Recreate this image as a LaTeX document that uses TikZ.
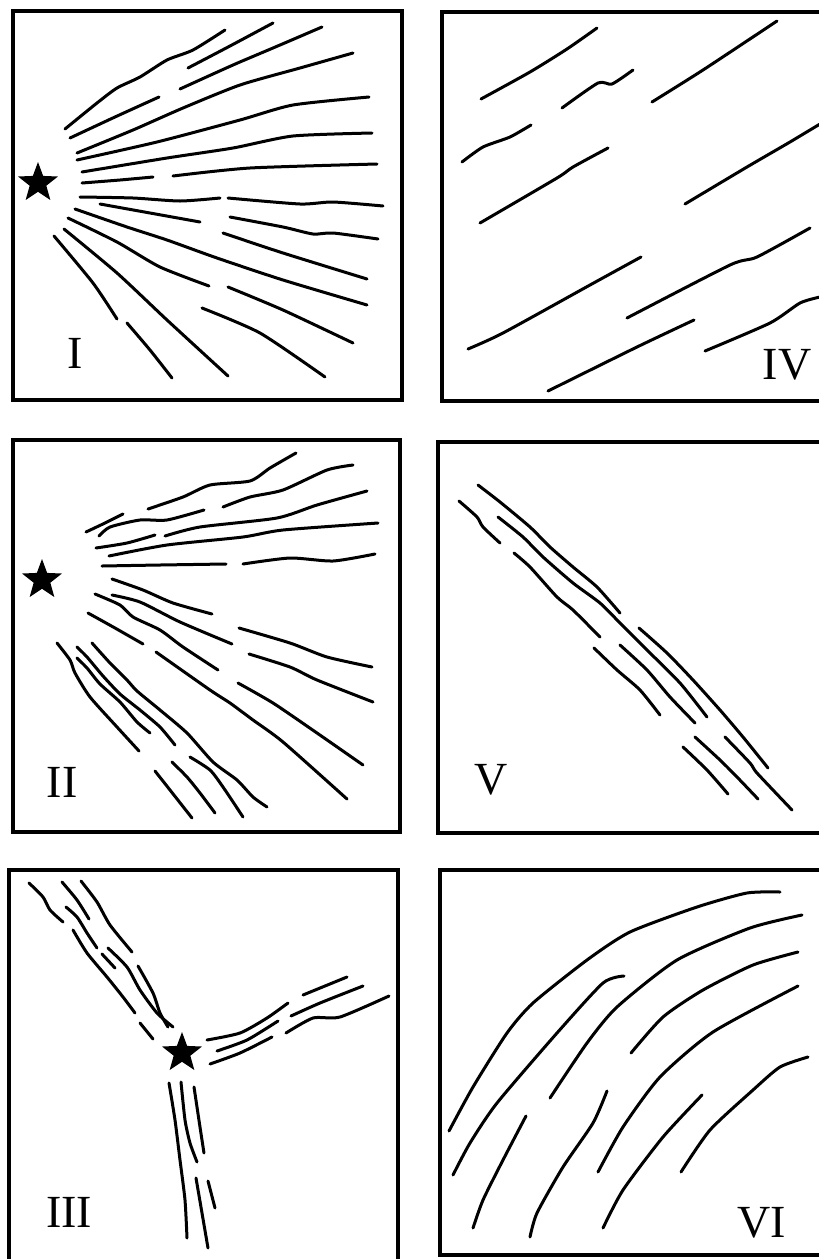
\documentclass[tikz,border=0pt]{standalone}
\usepackage{fontspec}
\setmainfont{Liberation Serif}
\usetikzlibrary{shapes.geometric}
\tikzset{
  frame/.style={line width=4.5pt},
  crack/.style={line width=3pt, line cap=round, line join=round},
  pole/.style={star, star points=5, star point ratio=2.4, fill=black, draw=none, minimum size=42pt, inner sep=0pt},
  lab/.style={font=\fontsize{46}{46}\selectfont, inner sep=0pt, anchor=center}
}
\newcommand{\crk}[1]{\draw[crack] plot[smooth, tension=0.4] coordinates {#1};}
\begin{document}
\begin{tikzpicture}[x=1pt,y=-1pt]
\useasboundingbox (0,0) rectangle (819,1259);
\begin{scope}
\clip (0,0) rectangle (819,1259);
% frames
\draw[frame] (13,11) rectangle (402,400);
\draw[frame] (442,12) rectangle (830,401);
\draw[frame] (13,440) rectangle (400,832);
\draw[frame] (438,442) rectangle (830,833);
\draw[frame] (9,870) rectangle (398,1270);
\draw[frame] (440,870) rectangle (830,1255);

% ---------- Panel I ----------
\crk{(65,129)(97,103)(117,88)(140,77)(167,60)(193,50)(225,30)}
\crk{(188,68)(230,46)(273,23)}
\crk{(70,138)(115,117)(159,97)}
\crk{(180,89)(233,65)(273,48)(322,27)}
\crk{(77,153)(133,130)(183,108)(240,85)(300,68)(353,53)}
\crk{(77,160)(157,142)(240,120)(293,105)(369,97)}
\crk{(82,172)(167,158)(233,148)(293,136)(372,133)}
\crk{(82,183)(120,180)(153,177)}
\crk{(173,176)(250,168)(377,164)}
\crk{(80,197)(133,198)(180,201)(220,198)}
\crk{(228,198)(300,204)(333,202)(383,206)}
\crk{(100,204)(150,213)(200,222)}
\crk{(230,217)(283,227)(313,234)(333,233)(378,239)}
\crk{(75,209)(127,227)(167,240)(217,258)(283,280)(367,305)}
\crk{(223,233)(283,253)(367,279)}
\crk{(68,218)(117,242)(160,267)(209,286)}
\crk{(228,287)(283,310)(353,343)}
\crk{(202,308)(260,333)(325,377)}
\crk{(64,229)(117,273)(167,320)(228,376)}
\crk{(54,236)(93,283)(117,319)}
\crk{(127,323)(150,350)(172,378)}
\node[pole] (s1) at (38,183) {};
\node[lab] (l1) at (75,353) {I};

% ---------- Panel IV ----------
\crk{(481,99)(530,72)(567,49)(597,28)}
\crk{(562,108)(598,83)(612,84)(633,70)}
\crk{(652,102)(703,70)(777,21)}
\crk{(462,162)(483,147)(510,137)(531,125)}
\crk{(480,223)(557,178)(573,167)(608,148)}
\crk{(685,204)(747,167)(790,142)(820,124)}
\crk{(468,349)(503,333)(590,285)(641,257)}
\crk{(627,318)(730,265)(757,257)(810,228)}
\crk{(548,391)(637,347)(694,320)}
\crk{(705,351)(770,323)(800,303)(820,297)}
\node[lab] (l4) at (787,365) {IV};

% ---------- Panel II ----------
\crk{(86,532)(105,523)(123,514)}
\crk{(99,536)(110,527)(140,520)(167,520)(204,510)}
\crk{(148,509)(183,497)(210,485)(250,481)(270,468)(296,453)}
\crk{(223,507)(250,497)(283,490)(327,470)(353,465)}
\crk{(96,548)(127,543)(155,535)}
\crk{(165,536)(200,527)(277,518)(317,505)(367,491)}
\crk{(109,556)(167,545)(243,537)(283,530)(378,523)}
\crk{(102,566)(160,565)(226,564)}
\crk{(243,564)(290,558)(333,561)(375,554)}
\crk{(112,579)(143,590)(173,603)(212,614)}
\crk{(112,595)(140,602)(180,622)(232,644)}
\crk{(95,594)(120,605)(133,617)(160,630)(183,647)(218,670)}
\crk{(239,628)(290,643)(327,657)(372,667)}
\crk{(249,654)(290,667)(317,680)(373,702)}
\crk{(88,613)(115,628)(143,644)}
\crk{(156,652)(210,690)(230,703)(253,720)(283,742)(347,799)}
\crk{(238,683)(273,703)(317,733)(363,765)}
\crk{(57,643)(70,660)(75,673)(90,697)(117,727)(139,751)}
\crk{(77,647)(87,657)(103,676)(120,694)(140,710)(160,727)(175,745)}
\crk{(77,658)(87,668)(100,684)(120,702)(137,722)(150,733)}
\crk{(92,643)(110,663)(127,680)(137,691)(160,710)(187,733)(213,762)(237,780)(253,797)(267,807)}
\crk{(155,771)(170,790)(192,818)}
\crk{(172,762)(187,777)(200,793)(215,813)}
\crk{(190,757)(210,770)(223,787)(243,817)}
\node[pole] (s2) at (42,580) {};
\node[lab] (l2) at (62,782) {II};

% ---------- Panel V ----------
\crk{(459,501)(477,517)(483,527)(500,543)}
\crk{(478,485)(500,502)(530,527)(550,547)(573,567)(597,587)(620,613)}
\crk{(498,517)(523,537)(543,557)(573,583)(600,603)(620,623)(647,650)(680,683)(707,717)}
\crk{(514,553)(530,567)(557,597)(573,610)(600,637)}
\crk{(639,628)(667,653)(693,680)(720,710)(743,737)(768,768)}
\crk{(594,648)(617,670)(640,690)(660,715)}
\crk{(620,645)(647,670)(670,697)(695,723)}
\crk{(683,747)(707,770)(728,794)}
\crk{(695,737)(720,760)(737,777)(758,799)}
\crk{(725,737)(750,763)(757,773)(792,810)}
\node[lab] (l5) at (491,780) {V};

% ---------- Panel III ----------
\crk{(29,883)(43,897)(50,910)(63,922)}
\crk{(62,882)(77,900)(89,919)}
\crk{(81,881)(97,902)(110,925)(132,952)}
\crk{(66,907)(77,917)(87,933)(97,948)}
\crk{(73,930)(87,953)(107,977)(123,997)(135,1013)}
\crk{(102,954)(115,968)}
\crk{(108,948)(127,967)(140,990)(157,1013)(173,1027)}
\crk{(138,966)(153,993)(160,1013)(168,1027)}
\crk{(140,1023)(153,1039)}
\crk{(207,1040)(240,1033)(267,1018)(288,1003)}
\crk{(217,1051)(247,1040)(278,1021)}
\crk{(210,1064)(240,1053)(272,1037)}
\crk{(303,995)(347,977)}
\crk{(291,1016)(320,1003)(363,986)}
\crk{(286,1033)(313,1018)(340,1017)(389,996)}
\crk{(169,1083)(175,1120)(180,1160)(185,1200)(187,1238)}
\crk{(181,1082)(185,1120)(190,1143)(197,1162)}
\crk{(194,1087)(200,1127)(204,1153)}
\crk{(196,1178)(202,1213)(208,1248)}
\crk{(208,1181)(215,1208)}
\node[pole] (s3) at (182,1053) {};
\node[lab] (l3) at (69,1212) {III};

% ---------- Panel VI ----------
\crk{(449,1131)(473,1087)(507,1033)(533,1003)(587,960)(630,932)(697,907)(747,893)(780,892)}
\crk{(453,1175)(470,1143)(497,1103)(557,1033)(603,983)(624,976)}
\crk{(550,1098)(587,1043)(617,1007)(677,960)(750,928)(802,915)}
\crk{(631,1053)(663,1017)(703,990)(753,965)(798,952)}
\crk{(598,1172)(623,1127)(660,1077)(713,1032)(798,986)}
\crk{(526,1116)(503,1160)(483,1200)(473,1228)}
\crk{(607,1091)(593,1123)(563,1167)(537,1213)(530,1237)}
\crk{(702,1095)(663,1137)(623,1190)(603,1228)}
\crk{(681,1172)(710,1130)(753,1090)(780,1067)(808,1057)}
\node[lab] (l6) at (762,1223) {VI};
\end{scope}
\end{tikzpicture}
\end{document}
